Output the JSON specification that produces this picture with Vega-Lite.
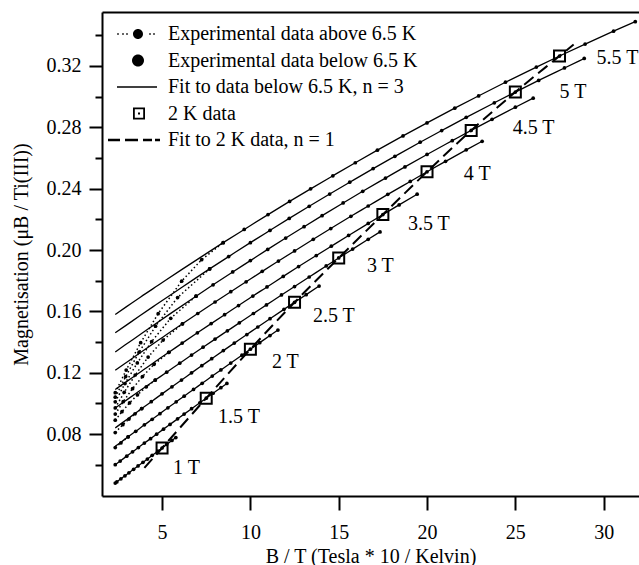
{
  "$schema": "https://vega.github.io/schema/vega-lite/v6.json",
  "width": 537,
  "height": 484,
  "autosize": {"type": "none"},
  "padding": {"left": 102, "top": 12, "right": 0, "bottom": 69},
  "background": "white",
  "config": {
    "view": {"stroke": null},
    "font": "Liberation Serif",
    "axis": {
      "domainColor": "black", "domainWidth": 2, "tickColor": "black", "tickWidth": 2,
      "labelColor": "black", "labelFont": "Liberation Serif", "labelFontSize": 20,
      "titleFont": "Liberation Serif", "titleFontSize": 20, "titleFontWeight": "normal",
      "titleColor": "black", "grid": false
    },
    "legend": {
      "orient": "top-left", "offset": 12, "padding": 0, "title": null,
      "labelFont": "Liberation Serif", "labelFontSize": 20, "labelColor": "black",
      "symbolSize": 400, "symbolStrokeWidth": 0, "symbolFillColor": "black",
      "symbolStrokeColor": "black", "symbolOpacity": 1, "rowPadding": 6.5,
      "labelOffset": 34, "labelLimit": 500
    }
  },
  "datasets": {
    "pts": [
      {"B":"1","x":2.35,"f":0.0480,"k":"b"},{"B":"1","x":2.44,"f":0.0488,"k":"b"},{"B":"1","x":2.67,"f":0.0508,"k":"b"},{"B":"1","x":2.90,"f":0.0528,"k":"b"},{"B":"1","x":3.125,"f":0.0547,"k":"b"},{"B":"1","x":3.39,"f":0.0570,"k":"b"},{"B":"1","x":3.64,"f":0.0592,"k":"b"},{"B":"1","x":3.92,"f":0.0616,"k":"b"},{"B":"1","x":4.17,"f":0.0637,"k":"b"},{"B":"1","x":4.44,"f":0.0661,"k":"b"},{"B":"1","x":4.76,"f":0.0688,"k":"b"},{"B":"1","x":5.0,"f":0.0709,"k":"b"},{"B":"1","x":5.26,"f":0.0732,"k":"b"},{"B":"1","x":5.56,"f":0.0758,"k":"b"},{"B":"1","x":5.78,"f":0.0777,"k":"b"},
      {"B":"1.5","x":2.35,"f":0.0600,"k":"b"},{"B":"1.5","x":2.63,"f":0.0624,"k":"b"},{"B":"1.5","x":3.0,"f":0.0656,"k":"b"},{"B":"1.5","x":3.33,"f":0.0684,"k":"b"},{"B":"1.5","x":3.66,"f":0.0712,"k":"b"},{"B":"1.5","x":4.0,"f":0.0741,"k":"b"},{"B":"1.5","x":4.35,"f":0.0770,"k":"b"},{"B":"1.5","x":4.69,"f":0.0799,"k":"b"},{"B":"1.5","x":5.08,"f":0.0832,"k":"b"},{"B":"1.5","x":5.45,"f":0.0863,"k":"b"},{"B":"1.5","x":5.88,"f":0.0899,"k":"b"},{"B":"1.5","x":6.25,"f":0.0930,"k":"b"},{"B":"1.5","x":6.67,"f":0.0965,"k":"b"},{"B":"1.5","x":7.14,"f":0.1004,"k":"b"},{"B":"1.5","x":7.5,"f":0.1034,"k":"b"},{"B":"1.5","x":7.89,"f":0.1066,"k":"b"},{"B":"1.5","x":8.33,"f":0.1102,"k":"b"},{"B":"1.5","x":8.67,"f":0.1130,"k":"b"},
      {"B":"2","x":2.35,"f":0.0720,"y":0.0712,"k":"a"},{"B":"2","x":2.67,"f":0.0747,"y":0.0742,"k":"a"},{"B":"2","x":3.08,"f":0.0782,"y":0.0782,"k":"e"},
      {"B":"2","x":3.51,"f":0.0818,"k":"b"},{"B":"2","x":4.0,"f":0.0860,"k":"b"},{"B":"2","x":4.44,"f":0.0896,"k":"b"},{"B":"2","x":4.88,"f":0.0933,"k":"b"},{"B":"2","x":5.33,"f":0.0971,"k":"b"},{"B":"2","x":5.80,"f":0.1010,"k":"b"},{"B":"2","x":6.25,"f":0.1047,"k":"b"},{"B":"2","x":6.78,"f":0.1091,"k":"b"},{"B":"2","x":7.27,"f":0.1131,"k":"b"},{"B":"2","x":7.84,"f":0.1178,"k":"b"},{"B":"2","x":8.33,"f":0.1218,"k":"b"},{"B":"2","x":8.89,"f":0.1263,"k":"b"},{"B":"2","x":9.52,"f":0.1314,"k":"b"},{"B":"2","x":10.0,"f":0.1353,"k":"b"},{"B":"2","x":10.53,"f":0.1396,"k":"b"},{"B":"2","x":11.11,"f":0.1442,"k":"b"},{"B":"2","x":11.56,"f":0.1478,"k":"b"},
      {"B":"2.5","x":2.35,"f":0.0840,"y":0.0810,"k":"a"},{"B":"2.5","x":2.78,"f":0.0876,"y":0.0861,"k":"a"},{"B":"2.5","x":3.125,"f":0.0905,"y":0.0898,"k":"a"},{"B":"2.5","x":3.47,"f":0.0934,"y":0.0932,"k":"a"},{"B":"2.5","x":3.85,"f":0.0966,"y":0.0966,"k":"e"},
      {"B":"2.5","x":4.39,"f":0.1011,"k":"b"},{"B":"2.5","x":5.0,"f":0.1062,"k":"b"},{"B":"2.5","x":5.56,"f":0.1108,"k":"b"},{"B":"2.5","x":6.10,"f":0.1152,"k":"b"},{"B":"2.5","x":6.67,"f":0.1199,"k":"b"},{"B":"2.5","x":7.25,"f":0.1246,"k":"b"},{"B":"2.5","x":7.81,"f":0.1291,"k":"b"},{"B":"2.5","x":8.47,"f":0.1344,"k":"b"},{"B":"2.5","x":9.09,"f":0.1393,"k":"b"},{"B":"2.5","x":9.80,"f":0.1449,"k":"b"},{"B":"2.5","x":10.42,"f":0.1498,"k":"b"},{"B":"2.5","x":11.11,"f":0.1552,"k":"b"},{"B":"2.5","x":11.90,"f":0.1613,"k":"b"},{"B":"2.5","x":12.5,"f":0.1659,"k":"b"},{"B":"2.5","x":13.16,"f":0.1709,"k":"b"},{"B":"2.5","x":13.89,"f":0.1765,"k":"b"},
      {"B":"3","x":2.35,"f":0.0970,"y":0.0890,"k":"a"},{"B":"3","x":2.73,"f":0.1001,"y":0.0946,"k":"a"},{"B":"3","x":3.16,"f":0.1036,"y":0.1003,"k":"a"},{"B":"3","x":3.61,"f":0.1072,"y":0.1056,"k":"a"},{"B":"3","x":4.11,"f":0.1112,"y":0.1108,"k":"a"},{"B":"3","x":4.615,"f":0.1152,"y":0.1152,"k":"e"},
      {"B":"3","x":5.26,"f":0.1203,"k":"b"},{"B":"3","x":6.0,"f":0.1262,"k":"b"},{"B":"3","x":6.67,"f":0.1315,"k":"b"},{"B":"3","x":7.32,"f":0.1366,"k":"b"},{"B":"3","x":8.0,"f":0.1419,"k":"b"},{"B":"3","x":8.70,"f":0.1473,"k":"b"},{"B":"3","x":9.375,"f":0.1525,"k":"b"},{"B":"3","x":10.17,"f":0.1586,"k":"b"},{"B":"3","x":10.91,"f":0.1642,"k":"b"},{"B":"3","x":11.76,"f":0.1707,"k":"b"},{"B":"3","x":12.5,"f":0.1762,"k":"b"},{"B":"3","x":13.33,"f":0.1824,"k":"b"},{"B":"3","x":14.29,"f":0.1896,"k":"b"},{"B":"3","x":15.0,"f":0.1948,"k":"b"},{"B":"3","x":15.79,"f":0.2006,"k":"b"},{"B":"3","x":16.67,"f":0.2070,"k":"b"},{"B":"3","x":17.34,"f":0.2118,"k":"b"},
      {"B":"3.5","x":2.35,"f":0.1090,"y":0.0930,"k":"a"},{"B":"3.5","x":2.8,"f":0.1127,"y":0.1011,"k":"a"},{"B":"3.5","x":3.33,"f":0.1169,"y":0.1096,"k":"a"},{"B":"3.5","x":3.89,"f":0.1214,"y":0.1175,"k":"a"},{"B":"3.5","x":4.545,"f":0.1267,"y":0.1255,"k":"a"},{"B":"3.5","x":5.385,"f":0.1333,"y":0.1333,"k":"e"},
      {"B":"3.5","x":6.14,"f":0.1393,"k":"b"},{"B":"3.5","x":7.0,"f":0.1460,"k":"b"},{"B":"3.5","x":7.78,"f":0.1520,"k":"b"},{"B":"3.5","x":8.54,"f":0.1578,"k":"b"},{"B":"3.5","x":9.33,"f":0.1638,"k":"b"},{"B":"3.5","x":10.14,"f":0.1700,"k":"b"},{"B":"3.5","x":10.94,"f":0.1759,"k":"b"},{"B":"3.5","x":11.86,"f":0.1828,"k":"b"},{"B":"3.5","x":12.73,"f":0.1892,"k":"b"},{"B":"3.5","x":13.73,"f":0.1964,"k":"b"},{"B":"3.5","x":14.58,"f":0.2025,"k":"b"},{"B":"3.5","x":15.56,"f":0.2095,"k":"b"},{"B":"3.5","x":16.67,"f":0.2173,"k":"b"},{"B":"3.5","x":17.5,"f":0.2231,"k":"b"},{"B":"3.5","x":18.42,"f":0.2294,"k":"b"},{"B":"3.5","x":19.44,"f":0.2364,"k":"b"},
      {"B":"4","x":2.35,"f":0.1216,"y":0.0970,"k":"a"},{"B":"4","x":2.857,"f":0.1257,"y":0.1072,"k":"a"},{"B":"4","x":3.48,"f":0.1307,"y":0.1185,"k":"a"},{"B":"4","x":4.21,"f":0.1366,"y":0.1302,"k":"a"},{"B":"4","x":5.06,"f":0.1433,"y":0.1413,"k":"a"},{"B":"4","x":6.154,"f":0.1519,"y":0.1519,"k":"e"},
      {"B":"4","x":7.02,"f":0.1586,"k":"b"},{"B":"4","x":8.0,"f":0.1661,"k":"b"},{"B":"4","x":8.89,"f":0.1728,"k":"b"},{"B":"4","x":9.76,"f":0.1793,"k":"b"},{"B":"4","x":10.67,"f":0.1861,"k":"b"},{"B":"4","x":11.59,"f":0.1928,"k":"b"},{"B":"4","x":12.5,"f":0.1994,"k":"b"},{"B":"4","x":13.56,"f":0.2070,"k":"b"},{"B":"4","x":14.55,"f":0.2140,"k":"b"},{"B":"4","x":15.69,"f":0.2220,"k":"b"},{"B":"4","x":16.67,"f":0.2287,"k":"b"},{"B":"4","x":17.78,"f":0.2363,"k":"b"},{"B":"4","x":19.05,"f":0.2447,"k":"b"},{"B":"4","x":20.0,"f":0.2510,"k":"b"},{"B":"4","x":21.05,"f":0.2578,"k":"b"},{"B":"4","x":22.22,"f":0.2653,"k":"b"},{"B":"4","x":23.12,"f":0.2709,"k":"b"},
      {"B":"4.5","x":2.35,"f":0.1335,"y":0.1010,"k":"a"},{"B":"4.5","x":2.90,"f":0.1380,"y":0.1129,"k":"a"},{"B":"4.5","x":3.60,"f":0.1436,"y":0.1264,"k":"a"},{"B":"4.5","x":4.41,"f":0.1501,"y":0.1403,"k":"a"},{"B":"4.5","x":5.49,"f":0.1587,"y":0.1555,"k":"a"},{"B":"4.5","x":6.923,"f":0.1699,"y":0.1699,"k":"e"},
      {"B":"4.5","x":7.89,"f":0.1773,"k":"b"},{"B":"4.5","x":9.0,"f":0.1857,"k":"b"},{"B":"4.5","x":10.0,"f":0.1931,"k":"b"},{"B":"4.5","x":10.98,"f":0.2004,"k":"b"},{"B":"4.5","x":12.0,"f":0.2078,"k":"b"},{"B":"4.5","x":13.04,"f":0.2152,"k":"b"},{"B":"4.5","x":14.06,"f":0.2224,"k":"b"},{"B":"4.5","x":15.25,"f":0.2307,"k":"b"},{"B":"4.5","x":16.36,"f":0.2383,"k":"b"},{"B":"4.5","x":17.65,"f":0.2469,"k":"b"},{"B":"4.5","x":18.75,"f":0.2542,"k":"b"},{"B":"4.5","x":20.0,"f":0.2623,"k":"b"},{"B":"4.5","x":21.43,"f":0.2713,"k":"b"},{"B":"4.5","x":22.5,"f":0.2780,"k":"b"},{"B":"4.5","x":23.68,"f":0.2852,"k":"b"},{"B":"4.5","x":25.0,"f":0.2931,"k":"b"},{"B":"4.5","x":26.01,"f":0.2990,"k":"b"},
      {"B":"5","x":2.35,"f":0.1460,"y":0.1040,"k":"a"},{"B":"5","x":2.94,"f":0.1507,"y":0.1175,"k":"a"},{"B":"5","x":3.70,"f":0.1568,"y":0.1334,"k":"a"},{"B":"5","x":4.63,"f":0.1641,"y":0.1503,"k":"a"},{"B":"5","x":5.88,"f":0.1738,"y":0.1690,"k":"a"},{"B":"5","x":7.692,"f":0.1877,"y":0.1877,"k":"e"},
      {"B":"5","x":8.77,"f":0.1957,"k":"b"},{"B":"5","x":10.0,"f":0.2048,"k":"b"},{"B":"5","x":11.11,"f":0.2128,"k":"b"},{"B":"5","x":12.2,"f":0.2206,"k":"b"},{"B":"5","x":13.33,"f":0.2285,"k":"b"},{"B":"5","x":14.49,"f":0.2365,"k":"b"},{"B":"5","x":15.625,"f":0.2442,"k":"b"},{"B":"5","x":16.95,"f":0.2531,"k":"b"},{"B":"5","x":18.18,"f":0.2611,"k":"b"},{"B":"5","x":19.61,"f":0.2703,"k":"b"},{"B":"5","x":20.83,"f":0.2779,"k":"b"},{"B":"5","x":22.22,"f":0.2865,"k":"b"},{"B":"5","x":23.81,"f":0.2960,"k":"b"},{"B":"5","x":25.0,"f":0.3030,"k":"b"},{"B":"5","x":26.32,"f":0.3106,"k":"b"},{"B":"5","x":27.78,"f":0.3187,"k":"b"},{"B":"5","x":28.90,"f":0.3249,"k":"b"},
      {"B":"5.5","x":2.35,"f":0.1580,"y":0.1070,"k":"a"},{"B":"5.5","x":2.97,"f":0.1629,"y":0.1217,"k":"a"},{"B":"5.5","x":3.79,"f":0.1694,"y":0.1396,"k":"a"},{"B":"5.5","x":4.78,"f":0.1770,"y":0.1585,"k":"a"},{"B":"5.5","x":6.11,"f":0.1872,"y":0.1797,"k":"a"},{"B":"5.5","x":7.24,"f":0.1957,"y":0.1937,"k":"a"},{"B":"5.5","x":8.46,"f":0.2048,"y":0.2048,"k":"e"},
      {"B":"5.5","x":9.65,"f":0.2134,"k":"b"},{"B":"5.5","x":11.0,"f":0.2231,"k":"b"},{"B":"5.5","x":12.22,"f":0.2317,"k":"b"},{"B":"5.5","x":13.41,"f":0.2399,"k":"b"},{"B":"5.5","x":14.67,"f":0.2484,"k":"b"},{"B":"5.5","x":15.94,"f":0.2569,"k":"b"},{"B":"5.5","x":17.19,"f":0.2651,"k":"b"},{"B":"5.5","x":18.64,"f":0.2744,"k":"b"},{"B":"5.5","x":20.0,"f":0.2829,"k":"b"},{"B":"5.5","x":21.57,"f":0.2925,"k":"b"},{"B":"5.5","x":22.92,"f":0.3005,"k":"b"},{"B":"5.5","x":24.44,"f":0.3094,"k":"b"},{"B":"5.5","x":26.19,"f":0.3193,"k":"b"},{"B":"5.5","x":27.5,"f":0.3265,"k":"b"},{"B":"5.5","x":28.95,"f":0.3343,"k":"b"},{"B":"5.5","x":30.56,"f":0.3427,"k":"b"},{"B":"5.5","x":31.79,"f":0.3489,"k":"b"}
    ],
    "sq": [
      {"x":5,"y":0.0709},{"x":7.5,"y":0.1034},{"x":10,"y":0.1353},{"x":12.5,"y":0.1659},{"x":15,"y":0.1948},
      {"x":17.5,"y":0.2231},{"x":20,"y":0.2510},{"x":22.5,"y":0.2780},{"x":25,"y":0.3030},{"x":27.5,"y":0.3265}
    ],
    "fit2k": [
      {"x":4.0,"y":0.0579},{"x":5,"y":0.0709},{"x":7.5,"y":0.1034},{"x":10,"y":0.1353},{"x":12.5,"y":0.1659},{"x":15,"y":0.1948},
      {"x":17.5,"y":0.2231},{"x":20,"y":0.2510},{"x":22.5,"y":0.2780},{"x":25,"y":0.3030},{"x":27.5,"y":0.3265},{"x":28.3,"y":0.3340}
    ],
    "labels": [
      {"t":"1 T","x":5.62,"y":0.0578},{"t":"1.5 T","x":8.17,"y":0.0911},{"t":"2 T","x":11.22,"y":0.1270},
      {"t":"2.5 T","x":13.54,"y":0.1567},{"t":"3 T","x":16.6,"y":0.1896},{"t":"3.5 T","x":18.92,"y":0.2172},
      {"t":"4 T","x":22.08,"y":0.2498},{"t":"4.5 T","x":24.85,"y":0.2793},{"t":"5 T","x":27.5,"y":0.3030},
      {"t":"5.5 T","x":29.6,"y":0.3252}
    ],
    "leg": [
      {"s":"Experimental data above 6.5 K"},{"s":"Experimental data below 6.5 K"},
      {"s":"Fit to data below 6.5 K, n = 3"},{"s":"2 K data"},{"s":"Fit to 2 K data, n = 1"}
    ]
  },
  "layer": [
    {
      "data": {"name": "pts"},
      "mark": {"type": "line", "interpolate": "monotone", "color": "black", "strokeWidth": 1.3},
      "encoding": {
        "x": {"field": "x", "type": "quantitative", "scale": {"domain": [1.6, 32], "nice": false, "zero": false},
              "axis": {"orient": "bottom", "values": [5,10,15,20,25,30], "tickSize": 14, "labelPadding": 12,
                       "title": "B / T (Tesla * 10 / Kelvin)", "titlePadding": 4, "labelFlush": false}},
        "y": {"field": "f", "type": "quantitative", "scale": {"domain": [0.0396, 0.3552], "nice": false, "zero": false},
              "title": "Magnetisation (μB / Ti(III))",
              "axis": {"orient": "left", "values": [0.06,0.08,0.10,0.12,0.14,0.16,0.18,0.20,0.22,0.24,0.26,0.28,0.30,0.32,0.34],
                       "format": ".2f",
                       "tickSize": {"condition": {"test": "indexof(['0.08','0.12','0.16','0.20','0.24','0.28','0.32'], datum.label) >= 0", "value": 13}, "value": 7},
                       "labelExpr": "indexof(['0.08','0.12','0.16','0.20','0.24','0.28','0.32'], datum.label) >= 0 ? datum.label : ''",
                       "labelPadding": 8, "titlePadding": 15}},
        "detail": {"field": "B", "type": "nominal"}
      }
    },
    {
      "data": {"name": "pts"},
      "transform": [{"filter": "datum.k != 'b'"}],
      "mark": {"type": "line", "color": "black", "strokeWidth": 1.5, "strokeDash": [1.5, 2.5],
               "point": {"filled": true, "size": 14, "color": "black"}},
      "encoding": {
        "x": {"field": "x", "type": "quantitative", "scale": {"domain": [1.6, 32], "nice": false, "zero": false}, "axis": null},
        "y": {"field": "y", "type": "quantitative", "scale": {"domain": [0.0396, 0.3552], "nice": false, "zero": false}, "axis": null},
        "detail": {"field": "B", "type": "nominal"}
      }
    },
    {
      "data": {"name": "pts"},
      "transform": [{"filter": "datum.k != 'a'"}],
      "mark": {"type": "point", "filled": true, "size": 14, "color": "black", "opacity": 1},
      "encoding": {
        "x": {"field": "x", "type": "quantitative", "scale": {"domain": [1.6, 32], "nice": false, "zero": false}, "axis": null},
        "y": {"field": "f", "type": "quantitative", "scale": {"domain": [0.0396, 0.3552], "nice": false, "zero": false}, "axis": null}
      }
    },
    {
      "data": {"name": "fit2k"},
      "mark": {"type": "line", "interpolate": "monotone", "color": "black", "strokeWidth": 2, "strokeDash": [12, 6]},
      "encoding": {
        "x": {"field": "x", "type": "quantitative", "scale": {"domain": [1.6, 32], "nice": false, "zero": false}, "axis": null},
        "y": {"field": "y", "type": "quantitative", "scale": {"domain": [0.0396, 0.3552], "nice": false, "zero": false}, "axis": null}
      }
    },
    {
      "data": {"name": "sq"},
      "mark": {"type": "point", "shape": "square", "filled": false, "size": 121, "strokeWidth": 2, "color": "black", "opacity": 1},
      "encoding": {
        "x": {"field": "x", "type": "quantitative", "scale": {"domain": [1.6, 32], "nice": false, "zero": false}, "axis": null},
        "y": {"field": "y", "type": "quantitative", "scale": {"domain": [0.0396, 0.3552], "nice": false, "zero": false}, "axis": null}
      }
    },
    {
      "data": {"name": "labels"},
      "mark": {"type": "text", "align": "left", "baseline": "middle", "font": "Liberation Serif", "fontSize": 20, "color": "black"},
      "encoding": {
        "x": {"field": "x", "type": "quantitative", "scale": {"domain": [1.6, 32], "nice": false, "zero": false},
              "axis": {"orient": "top", "labels": false, "ticks": false, "domain": true, "title": null}},
        "y": {"field": "y", "type": "quantitative", "scale": {"domain": [0.0396, 0.3552], "nice": false, "zero": false}, "axis": null},
        "text": {"field": "t"}
      }
    },
    {
      "data": {"name": "leg"},
      "mark": {"type": "point", "filled": true, "color": "black", "opacity": 0},
      "encoding": {
        "shape": {"field": "s", "type": "nominal",
          "scale": {
            "domain": ["Experimental data above 6.5 K", "Experimental data below 6.5 K", "Fit to data below 6.5 K, n = 3", "2 K data", "Fit to 2 K data, n = 1"],
            "range": [
              "M-0.68,-0.08h0.16v0.16h-0.16ZM-0.18,-0.08h0.16v0.16h-0.16ZM0.22,-0.08h0.16v0.16h-0.16ZM1.9,0A0.5,0.5,0,1,1,0.9,0A0.5,0.5,0,1,1,1.9,0ZM2.52,-0.08h0.16v0.16h-0.16ZM2.92,-0.08h0.16v0.16h-0.16Z",
              "M2.0,0A0.6,0.6,0,1,1,0.8,0A0.6,0.6,0,1,1,2.0,0Z",
              "M-0.7,-0.065H3.3V0.065H-0.7Z",
              "M0.9,-0.6H2.1V0.6H0.9ZM1.08,-0.42V0.42H1.92V-0.42ZM1.4,-0.1H1.6V0.1H1.4Z",
              "M-1.6,-0.12H-0.4V0.12H-1.6ZM0.1,-0.12H1.4V0.12H0.1ZM1.9,-0.12H2.8V0.12H1.9ZM3.1,-0.12H3.6V0.12H3.1Z"
            ]
          },
          "legend": {"orient": "top-left", "rowPadding": 6.5}
        }
      }
    }
  ],
  "resolve": {"axis": {"x": "independent", "y": "independent"}}
}
